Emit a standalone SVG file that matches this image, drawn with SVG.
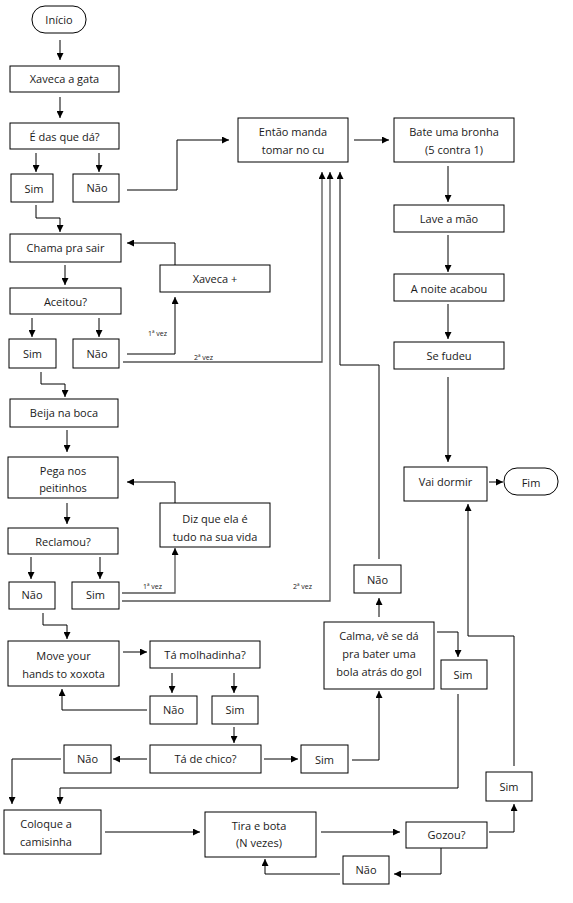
<svg xmlns="http://www.w3.org/2000/svg" width="573" height="903" viewBox="0 0 573 903">
<style>
.n{fill:#fff;stroke:#000;stroke-width:1}
.t{font-family:"Open Sans","Noto Sans",sans-serif;font-size:11px;fill:#1a1a1a;text-anchor:middle}
.s{font-family:"Open Sans","Noto Sans",sans-serif;font-size:7px;fill:#1a1a1a}
.c{fill:none;stroke:#000;stroke-width:1}
.g{fill:none;stroke:#555;stroke-width:1.3}
</style>
<defs>
<marker id="a" viewBox="0 0 8 8" refX="8" refY="4" markerWidth="7" markerHeight="7" orient="auto" markerUnits="userSpaceOnUse">
<path d="M0,0 L8,4 L0,8 z" fill="#000"/>
</marker>
</defs>
<rect width="573" height="903" fill="#fff"/>
<g id="connectors">
<path class="c" marker-end="url(#a)" d="M60,40 V60"/>
<path class="c" marker-end="url(#a)" d="M60,97 V118"/>
<path class="c" marker-end="url(#a)" d="M36,153 V172"/>
<path class="c" marker-end="url(#a)" d="M99,153 V172"/>
<path class="c" marker-end="url(#a)" d="M127,190 H177 V140 H229"/>
<path class="c" marker-end="url(#a)" d="M36,205 V218 H60 V232"/>
<path class="c" marker-end="url(#a)" d="M354,140 H389"/>
<path class="c" marker-end="url(#a)" d="M448,166 V202"/>
<path class="c" marker-end="url(#a)" d="M448,235 V272"/>
<path class="c" marker-end="url(#a)" d="M448,304 V339"/>
<path class="c" marker-end="url(#a)" d="M448,377 V462"/>
<path class="c" marker-end="url(#a)" d="M65,265 V285"/>
<path class="c" marker-end="url(#a)" d="M32,318 V337"/>
<path class="c" marker-end="url(#a)" d="M99,318 V337"/>
<path class="c" marker-end="url(#a)" d="M127,354 H175 V297"/>
<path class="c" marker-end="url(#a)" d="M175,265 V243 H127"/>
<path class="g" marker-end="url(#a)" d="M123,362 H322 V172"/>
<path class="c" marker-end="url(#a)" d="M41,372 V384 H65 V397"/>
<path class="c" marker-end="url(#a)" d="M67,430 V452"/>
<path class="c" marker-end="url(#a)" d="M67,503 V524"/>
<path class="c" marker-end="url(#a)" d="M31,557 V579"/>
<path class="c" marker-end="url(#a)" d="M100,557 V579"/>
<path class="g" marker-end="url(#a)" d="M122,593 H175 V548"/>
<path class="c" marker-end="url(#a)" d="M175,503 V482 H127"/>
<path class="g" marker-end="url(#a)" d="M122,601 H330 V172"/>
<path class="c" marker-end="url(#a)" d="M43,613 V625 H67 V639"/>
<path class="c" marker-end="url(#a)" d="M123,652 H147"/>
<path class="c" marker-end="url(#a)" d="M172,673 V693"/>
<path class="c" marker-end="url(#a)" d="M234,673 V693"/>
<path class="c" marker-end="url(#a)" d="M147,710 H62 V689"/>
<path class="c" marker-end="url(#a)" d="M234,727 V743"/>
<path class="c" marker-end="url(#a)" d="M147,759 H113"/>
<path class="c" marker-end="url(#a)" d="M61,759 H12 V804"/>
<path class="c" marker-end="url(#a)" d="M264,759 H298"/>
<path class="c" marker-end="url(#a)" d="M352,760 H379 V691"/>
<path class="c" marker-end="url(#a)" d="M379,617 V598"/>
<path class="c" marker-end="url(#a)" d="M379,559 V365 H340 V172"/>
<path class="c" marker-end="url(#a)" d="M437,632 H458 V657"/>
<path class="c" marker-end="url(#a)" d="M458,694 V788 H60 V804"/>
<path class="c" marker-end="url(#a)" d="M105,832 H200"/>
<path class="c" marker-end="url(#a)" d="M321,832 H400"/>
<path class="c" marker-end="url(#a)" d="M489,832 H514 V804"/>
<path class="c" marker-end="url(#a)" d="M514,766 V636 H468 V504"/>
<path class="c" marker-end="url(#a)" d="M489,482 H503"/>
<path class="c" marker-end="url(#a)" d="M441,848 V874 H394"/>
<path class="c" marker-end="url(#a)" d="M340,874 H265 V859"/>
<text class="s" x="148" y="336">1ª vez</text>
<text class="s" x="194" y="360">2ª vez</text>
<text class="s" x="143" y="589">1ª vez</text>
<text class="s" x="293" y="589">2ª vez</text>
</g>
<g id="inicio"><rect class="n" x="32" y="6" width="54" height="27" rx="13"/><text class="t" x="59" y="24">Início</text></g>
<g id="xaveca"><rect class="n" x="10" y="66" width="109" height="26"/><text class="t" x="64.5" y="83">Xaveca a gata</text></g>
<g id="edas"><rect class="n" x="10" y="123" width="109" height="26"/><text class="t" x="64.5" y="141">É das que dá?</text></g>
<g id="sim1"><rect class="n" x="11" y="174" width="42" height="28"/><text class="t" x="34" y="193">Sim</text></g>
<g id="nao1"><rect class="n" x="73" y="174" width="46" height="28"/><text class="t" x="97" y="192">Não</text></g>
<g id="entao"><rect class="n" x="238" y="118" width="110" height="44"/><text class="t" x="293" y="136">Então manda</text><text class="t" x="293" y="154">tomar no cu</text></g>
<g id="bate"><rect class="n" x="394" y="118" width="120" height="44"/><text class="t" x="454" y="136">Bate uma bronha</text><text class="t" x="454" y="154">(5 contra 1)</text></g>
<g id="lave"><rect class="n" x="394" y="205" width="110" height="27"/><text class="t" x="449" y="223">Lave a mão</text></g>
<g id="chama"><rect class="n" x="10" y="234" width="111" height="28"/><text class="t" x="65.5" y="252">Chama pra sair</text></g>
<g id="aceitou"><rect class="n" x="10" y="288" width="111" height="26"/><text class="t" x="65.5" y="306">Aceitou?</text></g>
<g id="sim2"><rect class="n" x="9" y="339" width="47" height="29"/><text class="t" x="32.5" y="358">Sim</text></g>
<g id="nao2"><rect class="n" x="73" y="339" width="46" height="29"/><text class="t" x="97" y="358">Não</text></g>
<g id="xavecamais"><rect class="n" x="160" y="265" width="110" height="27"/><text class="t" x="215" y="283">Xaveca +</text></g>
<g id="beija"><rect class="n" x="10" y="399" width="108" height="28"/><text class="t" x="64" y="417">Beija na boca</text></g>
<g id="noite"><rect class="n" x="394" y="274" width="110" height="27"/><text class="t" x="449" y="293">A noite acabou</text></g>
<g id="sefudeu"><rect class="n" x="394" y="342" width="110" height="27"/><text class="t" x="449" y="360">Se fudeu</text></g>
<g id="pega"><rect class="n" x="8" y="457" width="110" height="41"/><text class="t" x="63" y="475">Pega nos</text><text class="t" x="63" y="492">peitinhos</text></g>
<g id="reclamou"><rect class="n" x="8" y="528" width="110" height="26"/><text class="t" x="63" y="546">Reclamou?</text></g>
<g id="nao3"><rect class="n" x="9" y="582" width="46" height="27"/><text class="t" x="32" y="599">Não</text></g>
<g id="sim3"><rect class="n" x="72" y="582" width="47" height="27"/><text class="t" x="95.5" y="599">Sim</text></g>
<g id="diz"><rect class="n" x="160" y="503" width="110" height="44"/><text class="t" x="215" y="523">Diz que ela é</text><text class="t" x="215" y="541">tudo na sua vida</text></g>
<g id="move"><rect class="n" x="8" y="641" width="111" height="45"/><text class="t" x="63.5" y="660">Move your</text><text class="t" x="63.5" y="678">hands to xoxota</text></g>
<g id="molhadinha"><rect class="n" x="150" y="641" width="110" height="27"/><text class="t" x="205" y="659">Tá molhadinha?</text></g>
<g id="vaidormir"><rect class="n" x="404" y="467" width="83" height="34"/><text class="t" x="445.5" y="486">Vai dormir</text></g>
<g id="fim"><rect class="n" x="504" y="468" width="54" height="27" rx="13"/><text class="t" x="531" y="487">Fim</text></g>
<g id="nao4"><rect class="n" x="354" y="565" width="47" height="28"/><text class="t" x="377.5" y="584">Não</text></g>
<g id="calma"><rect class="n" x="324" y="622" width="110" height="67"/><text class="t" x="379" y="640">Calma, vê se dá</text><text class="t" x="379" y="658">pra bater uma</text><text class="t" x="379" y="676">bola atrás do gol</text></g>
<g id="sim4"><rect class="n" x="441" y="660" width="46" height="29"/><text class="t" x="463" y="679">Sim</text></g>
<g id="nao5"><rect class="n" x="150" y="696" width="47" height="28"/><text class="t" x="173.5" y="714">Não</text></g>
<g id="sim5"><rect class="n" x="212" y="696" width="46" height="28"/><text class="t" x="235" y="714">Sim</text></g>
<g id="chico"><rect class="n" x="150" y="745" width="111" height="28"/><text class="t" x="205.5" y="763">Tá de chico?</text></g>
<g id="nao6"><rect class="n" x="64" y="745" width="47" height="28"/><text class="t" x="87.5" y="763">Não</text></g>
<g id="sim6"><rect class="n" x="301" y="745" width="47" height="28"/><text class="t" x="324.5" y="764">Sim</text></g>
<g id="sim7"><rect class="n" x="486" y="772" width="46" height="29"/><text class="t" x="509" y="791">Sim</text></g>
<g id="coloque"><rect class="n" x="4" y="810" width="97" height="44"/><text class="t" x="46" y="828">Coloque a</text><text class="t" x="46" y="846">camisinha</text></g>
<g id="tira"><rect class="n" x="205" y="812" width="111" height="45"/><text class="t" x="259" y="830">Tira e bota</text><text class="t" x="259" y="847">(N vezes)</text></g>
<g id="gozou"><rect class="n" x="406" y="822" width="81" height="26"/><text class="t" x="446.5" y="839">Gozou?</text></g>
<g id="nao7"><rect class="n" x="343" y="856" width="46" height="28"/><text class="t" x="366" y="874">Não</text></g>
</svg>
